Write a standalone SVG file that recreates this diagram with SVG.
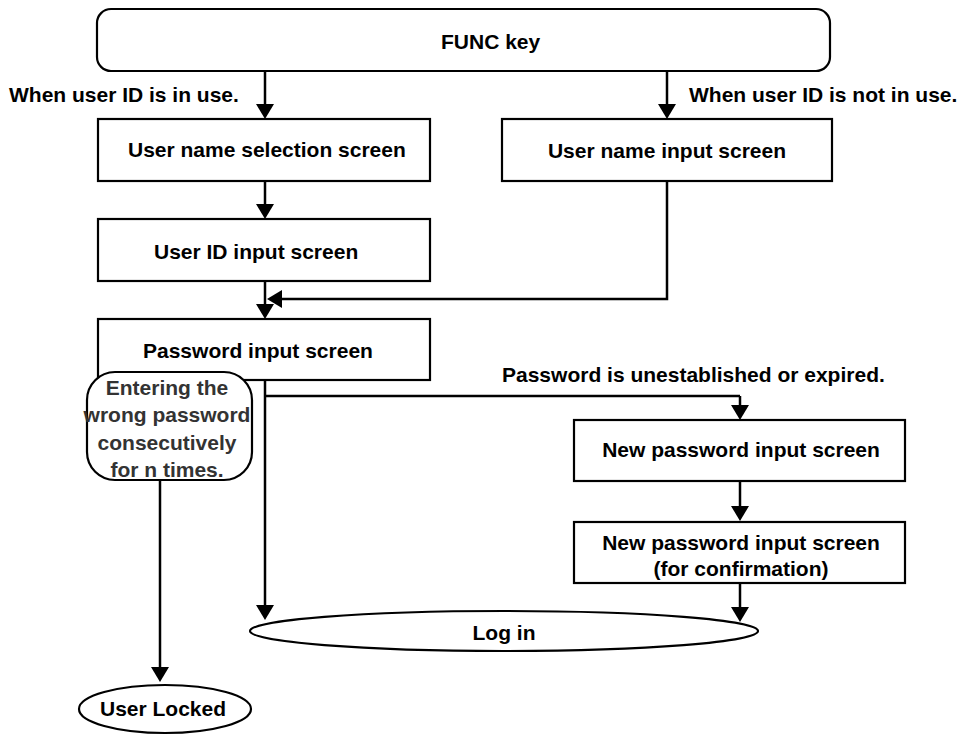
<svg xmlns="http://www.w3.org/2000/svg" width="967" height="736" viewBox="0 0 967 736">
<defs>
<style>
.box{fill:#fff;stroke:#000;stroke-width:2.2}
.t{font-family:"Liberation Sans",Arial,sans-serif;font-weight:bold;font-size:21px;fill:#000}
.c{text-anchor:middle}
.g{fill:#333}
.ln{fill:none;stroke:#000;stroke-width:2.5;marker-end:url(#ah)}
.ln2{fill:none;stroke:#000;stroke-width:2.5}
</style>
<marker id="ah" viewBox="0 0 15 18" refX="5" refY="9" markerWidth="15" markerHeight="18" markerUnits="userSpaceOnUse" orient="auto">
<path d="M0,0 L15,9 L0,18 Z" fill="#000"/>
</marker>
</defs>
<rect width="967" height="736" fill="#fff"/>
<g id="connectors">
<path class="ln" d="M265,71 V109"/>
<path class="ln" d="M667,71 V109"/>
<path class="ln" d="M265,181 V209"/>
<path class="ln" d="M265,281 V309"/>
<path class="ln" d="M667,181 V299 H277"/>
<path class="ln" d="M265,380 V610"/>
<path class="ln2" d="M265,396 H740"/>
<path class="ln" d="M740,396 V410"/>
<path class="ln" d="M740,481 V511"/>
<path class="ln" d="M740,583 V612"/>
<path class="ln" d="M160,480 V672"/>
</g>
<g id="func">
<rect class="box" x="97" y="9" width="733" height="62" rx="14"/>
<text class="t" x="441" y="49">FUNC key</text>
</g>
<g id="label-inuse">
<text class="t" x="9" y="102">When user ID is in use.</text>
</g>
<g id="label-notinuse">
<text class="t" x="689" y="102">When user ID is not in use.</text>
</g>
<g id="username-select">
<rect class="box" x="98" y="119" width="332" height="62"/>
<text class="t" x="128" y="157">User name selection screen</text>
</g>
<g id="username-input">
<rect class="box" x="502" y="119" width="330" height="62"/>
<text class="t c" x="667" y="158">User name input screen</text>
</g>
<g id="userid-input">
<rect class="box" x="98" y="219" width="332" height="62"/>
<text class="t" x="154" y="259">User ID input screen</text>
</g>
<g id="password-input">
<rect class="box" x="98" y="319" width="332" height="61"/>
<text class="t" x="143" y="358">Password input screen</text>
</g>
<g id="wrong-password">
<rect class="box" x="87" y="372" width="165" height="108" rx="28"/>
<text class="t c g" x="167" y="395">Entering the</text>
<text class="t c g" x="167" y="422">wrong password</text>
<text class="t c g" x="167" y="450">consecutively</text>
<text class="t c g" x="167" y="477">for n times.</text>
</g>
<g id="label-unestablished">
<text class="t" x="502" y="382">Password is unestablished or expired.</text>
</g>
<g id="new-password">
<rect class="box" x="574" y="420" width="331" height="61"/>
<text class="t c" x="741" y="457">New password input screen</text>
</g>
<g id="new-password-confirm">
<rect class="box" x="574" y="522" width="331" height="61"/>
<text class="t c" x="741" y="550">New password input screen</text>
<text class="t c" x="741" y="576">(for confirmation)</text>
</g>
<g id="login">
<ellipse class="box" cx="504" cy="631" rx="254" ry="20"/>
<text class="t c" x="504" y="640">Log in</text>
</g>
<g id="user-locked">
<ellipse class="box" cx="165" cy="709" rx="86" ry="24"/>
<text class="t c" x="163" y="716">User Locked</text>
</g>
</svg>
